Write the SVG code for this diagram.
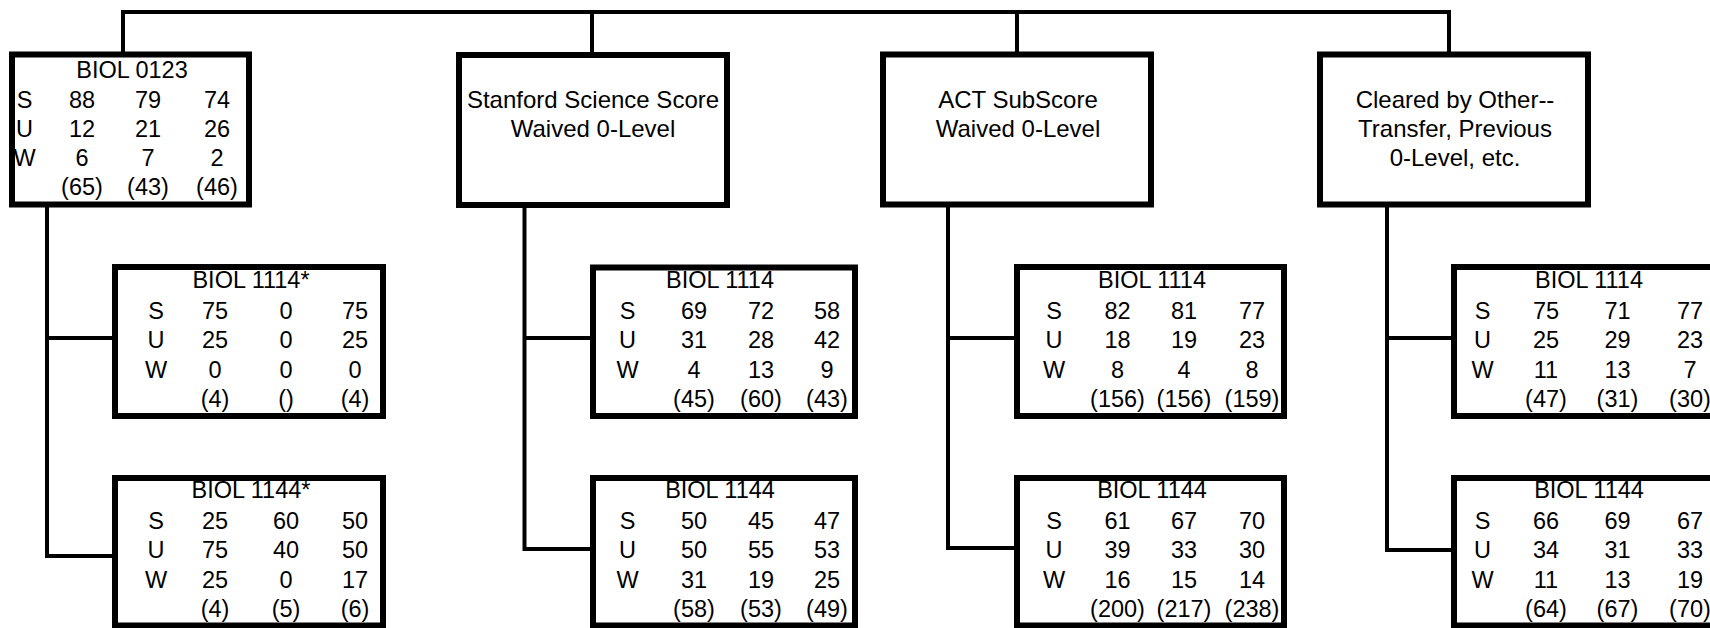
<svg xmlns="http://www.w3.org/2000/svg" width="1710" height="628" viewBox="0 0 1710 628">
<style>
.box{fill:#fff;stroke:#000;stroke-width:6}
.conn{fill:none;stroke:#000;stroke-width:4}
text{font-family:"Liberation Sans",Arial,sans-serif;font-size:23.5px;fill:#000;text-anchor:middle}
.big{font-size:24px}
</style>
<rect width="1710" height="628" fill="#fff"/>
<g id="connectors">
<path class="conn" d="M123,54 V12 H1449 V54"/>
<path class="conn" d="M592,12 V54"/>
<path class="conn" d="M1017,12 V54"/>
<path class="conn" d="M47,206 V556 H113 M47,338 H113"/>
<path class="conn" d="M524.5,206 V549 H591 M524.5,338 H591"/>
<path class="conn" d="M948,206 V548 H1015 M948,338 H1015"/>
<path class="conn" d="M1387,206 V550 H1452 M1387,338 H1452"/>
</g>
<g id="n1">
<rect class="box" x="12" y="54.5" width="237" height="150"/>
<text x="132" y="77.7">BIOL 0123</text>
<text x="24.5" y="107.7">S</text><text x="82" y="107.7">88</text><text x="148" y="107.7">79</text><text x="217" y="107.7">74</text>
<text x="24.5" y="136.7">U</text><text x="82" y="136.7">12</text><text x="148" y="136.7">21</text><text x="217" y="136.7">26</text>
<text x="24.5" y="165.7">W</text><text x="82" y="165.7">6</text><text x="148" y="165.7">7</text><text x="217" y="165.7">2</text>
<text x="82" y="195">(65)</text><text x="148" y="195">(43)</text><text x="217" y="195">(46)</text>
</g>
<g id="n2">
<rect class="box" x="459" y="55" width="268" height="150"/>
<text class="big" x="593" y="108.3">Stanford Science Score</text>
<text class="big" x="593" y="136.7">Waived 0-Level</text>
</g>
<g id="n3">
<rect class="box" x="883" y="54.5" width="268" height="150"/>
<text class="big" x="1018" y="108.3">ACT SubScore</text>
<text class="big" x="1018" y="136.7">Waived 0-Level</text>
</g>
<g id="n4">
<rect class="box" x="1320" y="54.5" width="268" height="150"/>
<text class="big" x="1455" y="108.3">Cleared by Other--</text>
<text class="big" x="1455" y="137.3">Transfer, Previous</text>
<text class="big" x="1455" y="165.7">0-Level, etc.</text>
</g>
<g id="c1a">
<rect class="box" x="115" y="267" width="268" height="149"/>
<text x="251" y="288">BIOL 1114*</text>
<text x="156" y="318.5">S</text><text x="215" y="318.5">75</text><text x="286" y="318.5">0</text><text x="355" y="318.5">75</text>
<text x="156" y="348">U</text><text x="215" y="348">25</text><text x="286" y="348">0</text><text x="355" y="348">25</text>
<text x="156" y="377.5">W</text><text x="215" y="377.5">0</text><text x="286" y="377.5">0</text><text x="355" y="377.5">0</text>
<text x="215" y="406.5">(4)</text><text x="286" y="406.5">()</text><text x="355" y="406.5">(4)</text>
</g>
<g id="c1b">
<rect class="box" x="115" y="478" width="268" height="147.5"/>
<text x="251" y="498">BIOL 1144*</text>
<text x="156" y="528.5">S</text><text x="215" y="528.5">25</text><text x="286" y="528.5">60</text><text x="355" y="528.5">50</text>
<text x="156" y="558">U</text><text x="215" y="558">75</text><text x="286" y="558">40</text><text x="355" y="558">50</text>
<text x="156" y="587.5">W</text><text x="215" y="587.5">25</text><text x="286" y="587.5">0</text><text x="355" y="587.5">17</text>
<text x="215" y="616.5">(4)</text><text x="286" y="616.5">(5)</text><text x="355" y="616.5">(6)</text>
</g>
<g id="c2a">
<rect class="box" x="593" y="267.5" width="262" height="148.5"/>
<text x="720" y="288">BIOL 1114</text>
<text x="627.5" y="318.5">S</text><text x="694" y="318.5">69</text><text x="761" y="318.5">72</text><text x="827" y="318.5">58</text>
<text x="627.5" y="348">U</text><text x="694" y="348">31</text><text x="761" y="348">28</text><text x="827" y="348">42</text>
<text x="627.5" y="377.5">W</text><text x="694" y="377.5">4</text><text x="761" y="377.5">13</text><text x="827" y="377.5">9</text>
<text x="694" y="406.5">(45)</text><text x="761" y="406.5">(60)</text><text x="827" y="406.5">(43)</text>
</g>
<g id="c2b">
<rect class="box" x="593" y="478" width="262" height="147.5"/>
<text x="720" y="498">BIOL 1144</text>
<text x="627.5" y="528.5">S</text><text x="694" y="528.5">50</text><text x="761" y="528.5">45</text><text x="827" y="528.5">47</text>
<text x="627.5" y="558">U</text><text x="694" y="558">50</text><text x="761" y="558">55</text><text x="827" y="558">53</text>
<text x="627.5" y="587.5">W</text><text x="694" y="587.5">31</text><text x="761" y="587.5">19</text><text x="827" y="587.5">25</text>
<text x="694" y="616.5">(58)</text><text x="761" y="616.5">(53)</text><text x="827" y="616.5">(49)</text>
</g>
<g id="c3a">
<rect class="box" x="1017" y="267" width="267" height="149"/>
<text x="1152" y="288">BIOL 1114</text>
<text x="1054" y="318.5">S</text><text x="1117.5" y="318.5">82</text><text x="1184" y="318.5">81</text><text x="1252" y="318.5">77</text>
<text x="1054" y="348">U</text><text x="1117.5" y="348">18</text><text x="1184" y="348">19</text><text x="1252" y="348">23</text>
<text x="1054" y="377.5">W</text><text x="1117.5" y="377.5">8</text><text x="1184" y="377.5">4</text><text x="1252" y="377.5">8</text>
<text x="1117.5" y="406.5">(156)</text><text x="1184" y="406.5">(156)</text><text x="1252" y="406.5">(159)</text>
</g>
<g id="c3b">
<rect class="box" x="1017" y="478" width="267" height="147.5"/>
<text x="1152" y="498">BIOL 1144</text>
<text x="1054" y="528.5">S</text><text x="1117.5" y="528.5">61</text><text x="1184" y="528.5">67</text><text x="1252" y="528.5">70</text>
<text x="1054" y="558">U</text><text x="1117.5" y="558">39</text><text x="1184" y="558">33</text><text x="1252" y="558">30</text>
<text x="1054" y="587.5">W</text><text x="1117.5" y="587.5">16</text><text x="1184" y="587.5">15</text><text x="1252" y="587.5">14</text>
<text x="1117.5" y="616.5">(200)</text><text x="1184" y="616.5">(217)</text><text x="1252" y="616.5">(238)</text>
</g>
<g id="c4a">
<rect class="box" x="1454" y="267" width="270" height="149"/>
<text x="1589" y="288">BIOL 1114</text>
<text x="1482.5" y="318.5">S</text><text x="1546" y="318.5">75</text><text x="1617.5" y="318.5">71</text><text x="1690" y="318.5">77</text>
<text x="1482.5" y="348">U</text><text x="1546" y="348">25</text><text x="1617.5" y="348">29</text><text x="1690" y="348">23</text>
<text x="1482.5" y="377.5">W</text><text x="1546" y="377.5">11</text><text x="1617.5" y="377.5">13</text><text x="1690" y="377.5">7</text>
<text x="1546" y="406.5">(47)</text><text x="1617.5" y="406.5">(31)</text><text x="1690" y="406.5">(30)</text>
</g>
<g id="c4b">
<rect class="box" x="1454" y="478" width="270" height="147.5"/>
<text x="1589" y="498">BIOL 1144</text>
<text x="1482.5" y="528.5">S</text><text x="1546" y="528.5">66</text><text x="1617.5" y="528.5">69</text><text x="1690" y="528.5">67</text>
<text x="1482.5" y="558">U</text><text x="1546" y="558">34</text><text x="1617.5" y="558">31</text><text x="1690" y="558">33</text>
<text x="1482.5" y="587.5">W</text><text x="1546" y="587.5">11</text><text x="1617.5" y="587.5">13</text><text x="1690" y="587.5">19</text>
<text x="1546" y="616.5">(64)</text><text x="1617.5" y="616.5">(67)</text><text x="1690" y="616.5">(70)</text>
</g>
</svg>
